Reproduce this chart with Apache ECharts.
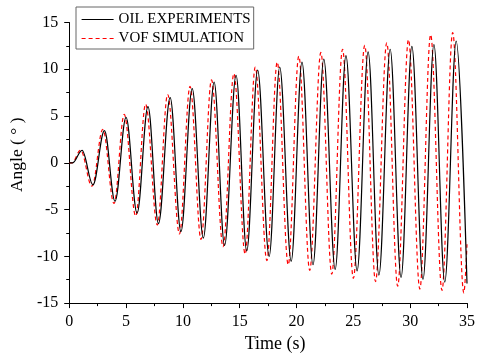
<!DOCTYPE html>
<html>
<head>
<meta charset="utf-8">
<script src="https://cdn.jsdelivr.net/npm/echarts@6/dist/echarts.min.js"></script>
<style>html,body{margin:0;padding:0;background:#fff}#c{width:478px;height:358px}</style>
</head>
<body>
<div id="c"></div>
<script>
var seriesNames = ['OIL EXPERIMENTS', 'VOF SIMULATION'];
var oilT = [0, 0.3, 1.13, 2.09, 3.1, 4.03, 5.0, 5.97, 6.93, 7.85, 8.88, 9.83, 10.82, 11.8, 12.75, 13.67, 14.68, 15.62, 16.58, 17.59, 18.52, 19.53, 20.48, 21.45, 22.4, 23.4, 24.35, 25.33, 26.3, 27.25, 28.24, 29.2, 30.15, 31.13, 32.09, 33.04, 34.05, 35.0];
var oilV = [0, 0, 1.33, -2.35, 3.44, -4.12, 4.85, -5.38, 6.0, -6.49, 6.96, -7.35, 7.93, -8.05, 8.62, -8.83, 9.35, -9.41, 9.9, -10.0, 10.24, -10.52, 10.76, -10.9, 11.1, -11.4, 11.45, -11.55, 11.86, -12.0, 12.14, -12.25, 12.45, -12.45, 12.65, -12.76, 13.0, -12.9];
var vofT = [0, 0.25, 1.0, 2.0, 2.96, 3.94, 4.84, 5.85, 6.72, 7.75, 8.66, 9.7, 10.63, 11.6, 12.52, 13.54, 14.49, 15.48, 16.37, 17.39, 18.3, 19.27, 20.2, 21.16, 22.14, 23.1, 24.05, 25.0, 26.0, 26.95, 27.94, 28.9, 29.85, 30.85, 31.8, 32.8, 33.74, 34.72, 35.0];
var vofV = [0, 0, 1.35, -2.5, 3.58, -4.35, 5.17, -5.7, 6.27, -6.65, 7.3, -7.6, 8.17, -8.2, 8.86, -8.97, 9.55, -9.76, 10.24, -10.45, 10.76, -10.9, 11.4, -11.5, 11.8, -11.9, 12.14, -12.35, 12.55, -12.7, 12.83, -13.2, 13.17, -13.5, 13.69, -13.65, 13.93, -13.9, -8.7];

function zip(t, v) { return t.map(function (x, i) { return [x, v[i]]; }); }

var FONT = "'Liberation Serif', 'Times New Roman', serif";
var chart = echarts.init(document.getElementById('c'), null, { renderer: 'canvas' });
chart.setOption({
  animation: false,
  backgroundColor: '#fff',
  grid: { left: 68, right: 8, top: 22.5, bottom: 45.5, containLabel: false },
  legend: {
    orient: 'vertical', left: 76, top: 7,
    itemWidth: 32, itemHeight: 14, itemGap: 4,
    padding: [5, 3, 3, 5],
    borderColor: '#666', borderWidth: 1, backgroundColor: '#fff',
    itemStyle: { opacity: 0 },
    lineStyle: { width: 1.2 },
    textStyle: { fontFamily: FONT, fontSize: 15, color: '#000' },
    data: seriesNames
  },
  xAxis: {
    type: 'value', min: 0, max: 35, interval: 5,
    name: 'Time (s)', nameLocation: 'middle', nameGap: 22,
    nameTextStyle: { fontFamily: FONT, fontSize: 18, color: '#000', padding: [0, 0, 0, 14] },
    axisLine: { show: true, onZero: false, lineStyle: { color: '#000', width: 1 } },
    axisTick: { show: true, inside: false, length: 5, lineStyle: { color: '#000' } },
    minorTick: { show: true, splitNumber: 2, length: 3, lineStyle: { color: '#000' } },
    axisLabel: { fontFamily: FONT, fontSize: 16, color: '#000', margin: 11 },
    splitLine: { show: false }
  },
  yAxis: {
    type: 'value', min: -15, max: 15, interval: 5,
    name: 'Angle ( \u00B0 )', nameLocation: 'middle', nameGap: 42, nameRotate: 90,
    nameTextStyle: { fontFamily: FONT, fontSize: 17.5, color: '#000', padding: [0, 0, 0, 16] },
    axisLine: { show: true, onZero: false, lineStyle: { color: '#000', width: 1 } },
    axisTick: { show: true, inside: false, length: 5, lineStyle: { color: '#000' } },
    minorTick: { show: true, splitNumber: 2, length: 3, lineStyle: { color: '#000' } },
    axisLabel: { fontFamily: FONT, fontSize: 16, color: '#000', margin: 11 },
    splitLine: { show: false }
  },
  series: [
    {
      name: seriesNames[0], type: 'line', data: zip(oilT, oilV),
      showSymbol: false, symbol: 'none', smooth: 0.36, smoothMonotone: 'x',
      lineStyle: { color: '#000', width: 1.2, type: 'solid' }, itemStyle: { color: '#000' },
      clip: true, z: 3
    },
    {
      name: seriesNames[1], type: 'line', data: zip(vofT, vofV),
      showSymbol: false, symbol: 'none', smooth: 0.36, smoothMonotone: 'x',
      lineStyle: { color: '#ff0000', width: 1.2, type: [4, 3] }, itemStyle: { color: '#ff0000' },
      clip: true, z: 2
    }
  ]
});
</script>
</body>
</html>
